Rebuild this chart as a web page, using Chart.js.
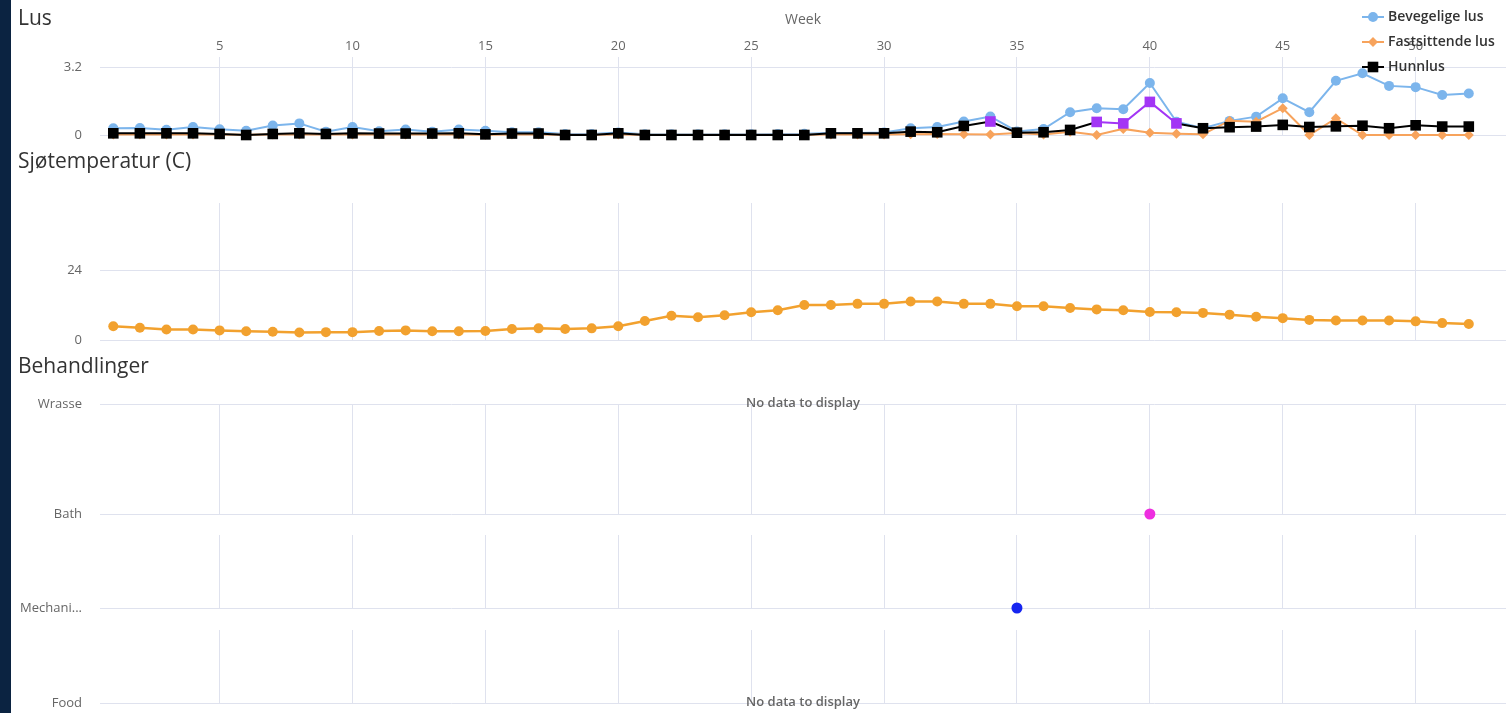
<!DOCTYPE html>
<html>
<head>
<meta charset="utf-8">
<script src="https://cdn.jsdelivr.net/npm/chart.js@4.4.1/dist/chart.umd.min.js"></script>
<style>
  body { margin: 0; width: 1506px; height: 713px; overflow: hidden; background: #fff; position: relative; font-family: "Open Sans", sans-serif; }
  .stripe { position: absolute; left: 0; top: 0; width: 11px; height: 713px; background: #0b2341; }
  .box { position: absolute; left: 12px; width: 1494px; }
  .title { position: absolute; left: 18px; font-size: 21px; line-height: 28px; color: #333; z-index: 2; }
</style>
</head>
<body>
<div class="stripe"></div>
<div class="box" style="top:0;height:147px"><canvas id="lus"></canvas></div>
<div class="box" style="top:190px;height:162px"><canvas id="temp"></canvas></div>
<div class="box" style="top:368px;height:48px"><canvas id="wrasse"></canvas></div>
<div class="box" style="top:392px;height:134px"><canvas id="bath"></canvas></div>
<div class="box" style="top:523px;height:97px"><canvas id="mech"></canvas></div>
<div class="box" style="top:618px;height:95px"><canvas id="food"></canvas></div>
<div class="title" style="top:3px">Lus</div>
<div class="title" style="top:146px">Sjøtemperatur (C)</div>
<div class="title" style="top:351px">Behandlinger</div>

<script>
// uker
const weeks = [1, 2, 3, 4, 5, 6, 7, 8, 9, 10, 11, 12, 13, 14, 15, 16, 17, 18, 19, 20, 21, 22, 23, 24, 25, 26,
  27, 28, 29, 30, 31, 32, 33, 34, 35, 36, 37, 38, 39, 40, 41, 42, 43, 44, 45, 46, 47, 48, 49, 50, 51, 52];
const weekTicks = [5, 10, 15, 20, 25, 30, 35, 40, 45, 50];

// lus per fisk
const bevegelige = [0.32, 0.33, 0.25, 0.38, 0.27, 0.2, 0.45, 0.55, 0.16, 0.38, 0.18, 0.26, 0.16, 0.26, 0.2, 0.13, 0.13,
  0.05, 0.05, 0.12, 0.04, 0.04, 0.04, 0.04, 0.04, 0.05, 0.06, 0.1, 0.1, 0.12, 0.32, 0.38, 0.64, 0.88, 0.17, 0.28,
  1.08, 1.27, 1.22, 2.47, 0.63, 0.32, 0.67, 0.87, 1.74, 1.08, 2.57, 2.93, 2.33, 2.27, 1.9, 1.97];
const fastsittende = [0.02, 0.02, 0.02, 0.02, 0.02, 0.01, 0.02, 0.02, 0.02, 0.02, 0.02, 0.02, 0.02, 0.02, 0.01, 0.02, 0.02,
  0.01, 0.01, 0.02, 0.01, 0.01, 0.01, 0.01, 0.01, 0.01, 0.01, 0.02, 0.02, 0.02, 0.03, 0.05, 0.04, 0.02, 0.1, 0.02,
  0.15, 0, 0.29, 0.11, 0.06, 0.03, 0.68, 0.63, 1.27, 0, 0.79, 0, 0, 0, 0, 0];
const hunnlus = [0.08, 0.08, 0.08, 0.08, 0.05, 0, 0.05, 0.08, 0.05, 0.08, 0.07, 0.07, 0.07, 0.08, 0.03, 0.07, 0.07,
  0, 0, 0.08, 0, 0, 0, 0, 0, 0, 0, 0.08, 0.08, 0.08, 0.16, 0.13, 0.43, 0.64, 0.11, 0.13,
  0.24, 0.62, 0.55, 1.57, 0.55, 0.32, 0.37, 0.4, 0.48, 0.38, 0.41, 0.44, 0.32, 0.46, 0.4, 0.4];
const hunnlusGrense = 0.5;
const lusTicks = [0, 3.2];

// sjøtemperatur
const temperatur = [4.7, 4.2, 3.6, 3.6, 3.3, 3.0, 2.8, 2.6, 2.7, 2.7, 3.1, 3.3, 3.0, 3.0, 3.1, 3.8, 4.0, 3.8, 4.0, 4.7,
  6.5, 8.3, 7.8, 8.5, 9.5, 10.2, 12.0, 12.0, 12.4, 12.4, 13.2, 13.2, 12.4, 12.4, 11.6, 11.6, 11.0, 10.5, 10.2, 9.6,
  9.5, 9.3, 8.7, 8.0, 7.5, 6.9, 6.7, 6.7, 6.7, 6.4, 5.8, 5.5];
const tempTicks = [0, 24];

// behandlinger
const treatmentLabels = ['Wrasse', 'Bath', 'Mechani...', 'Food'];
const wrasseWeeks = [];
const bathWeeks = [40];
const mechanicalWeeks = [35];
const foodWeeks = [];

const gridColor = '#dfe2ee';
const labelColor = '#666';
const tickFont = { family: '"Open Sans", sans-serif', size: 13 };
const purple = '#a335f5';

const pts = (xs, ys) => xs.map((x, i) => ({ x: x, y: ys[i] }));

function weekAxis(showLabels, showGrid) {
  return {
    type: 'linear', position: 'top', min: 0.5, max: 53.4,
    afterBuildTicks: s => { s.ticks = weekTicks.map(v => ({ value: v })); },
    grid: { color: gridColor, drawTicks: false, display: showGrid },
    border: { display: false },
    ticks: { display: showLabels, padding: 3, color: labelColor, font: tickFont, maxRotation: 0 },
    title: { display: showLabels, text: 'Week', color: labelColor, font: { family: tickFont.family, size: 14 }, padding: { top: 12, bottom: 0 } },
    afterFit: s => { s.height = showLabels ? 57 : 0; }
  };
}

// y-akse: avstand til plottet via usynlige tick-streker, ikke padding
function valueAxis(min, max, tickValues, labelFn) {
  const axis = {
    type: 'linear', position: 'left', min: min, max: max,
    afterBuildTicks: s => { s.ticks = tickValues.map(v => ({ value: v })); },
    grid: { color: gridColor, drawTicks: true, tickLength: 18, tickColor: 'rgba(0,0,0,0)' },
    border: { display: false },
    ticks: { padding: 0, color: labelColor, font: tickFont, autoSkip: false },
    afterFit: s => { s.width = 88; }
  };
  if (labelFn) axis.ticks.callback = labelFn;
  return axis;
}

// tegnforklaring oppe til høyre
function drawMarker(ctx, style, x, y, r) {
  ctx.beginPath();
  if (style === 'circle') {
    ctx.arc(x, y, r, 0, Math.PI * 2);
  } else if (style === 'rectRot') {
    ctx.moveTo(x - r, y); ctx.lineTo(x, y - r); ctx.lineTo(x + r, y); ctx.lineTo(x, y + r); ctx.closePath();
  } else {
    const h = r * Math.SQRT1_2;
    ctx.rect(x - h, y - h, 2 * h, 2 * h);
  }
  ctx.fill();
}

const cornerLegend = {
  id: 'cornerLegend',
  afterDraw(chart) {
    const ctx = chart.ctx;
    ctx.save();
    chart.data.datasets.forEach((ds, i) => {
      const y = 17 + i * 25;
      const x0 = 1350;
      ctx.strokeStyle = ds.borderColor;
      ctx.fillStyle = ds.legendColor || ds.borderColor;
      ctx.lineWidth = 2;
      ctx.beginPath(); ctx.moveTo(x0, y); ctx.lineTo(x0 + 22, y); ctx.stroke();
      drawMarker(ctx, ds.pointStyle, x0 + 11, y, ds.legendRadius);
      ctx.fillStyle = '#333';
      ctx.font = '600 14px "Open Sans", sans-serif';
      ctx.textAlign = 'left';
      ctx.textBaseline = 'middle';
      ctx.fillText(ds.label, x0 + 26, y);
    });
    ctx.restore();
  }
};

const noData = {
  id: 'noData',
  afterDraw(chart) {
    if (!chart.data.datasets.every(d => d.data.length === 0)) return;
    const { ctx, chartArea } = chart;
    ctx.save();
    ctx.font = '600 13px "Open Sans", sans-serif';
    ctx.fillStyle = labelColor;
    ctx.textAlign = 'center';
    ctx.textBaseline = 'middle';
    ctx.fillText('No data to display', (chartArea.left + chartArea.right) / 2, chartArea.bottom - 1);
    ctx.restore();
  }
};

const baseOptions = {
  responsive: true,
  maintainAspectRatio: false,
  animation: false,
  plugins: { legend: { display: false }, tooltip: { enabled: false } }
};

// Lus
new Chart(document.getElementById('lus'), {
  type: 'line',
  data: {
    datasets: [
      {
        label: 'Bevegelige lus', data: pts(weeks, bevegelige), order: 2,
        borderColor: '#7cb5ec', backgroundColor: '#7cb5ec', borderWidth: 2, tension: 0,
        pointStyle: 'circle', pointRadius: 5, pointBorderWidth: 0, legendRadius: 5, clip: false
      },
      {
        label: 'Fastsittende lus', data: pts(weeks, fastsittende), order: 1,
        borderColor: '#f7a35c', backgroundColor: '#f7a35c', borderWidth: 2, tension: 0,
        pointStyle: 'rectRot', pointRadius: 5, pointBorderWidth: 0, legendRadius: 5, clip: false
      },
      {
        label: 'Hunnlus', data: pts(weeks, hunnlus), order: 0,
        borderColor: '#000', backgroundColor: '#000', legendColor: '#000', borderWidth: 2, tension: 0,
        pointStyle: 'rect', pointRadius: 7.5, pointBorderWidth: 0, legendRadius: 7.5, clip: false,
        pointBackgroundColor: c => (c.parsed && c.parsed.y > hunnlusGrense) ? purple : '#000',
        segment: {
          borderColor: c => (c.p0.parsed.y > hunnlusGrense && c.p1.parsed.y > hunnlusGrense) ? purple : '#000'
        }
      }
    ]
  },
  options: Object.assign({}, baseOptions, {
    layout: { autoPadding: false, padding: { top: 0, bottom: 12, left: 0, right: 0 } },
    scales: { x: weekAxis(true, true), y: valueAxis(0, 3.7, lusTicks) }
  }),
  plugins: [cornerLegend]
});

// Sjøtemperatur
new Chart(document.getElementById('temp'), {
  type: 'line',
  data: {
    datasets: [{
      label: 'Sjøtemperatur', data: pts(weeks, temperatur),
      borderColor: '#f2a12e', backgroundColor: '#f2a12e', borderWidth: 2.5, tension: 0,
      pointRadius: 5, pointBorderWidth: 0, clip: false
    }]
  },
  options: Object.assign({}, baseOptions, {
    layout: { autoPadding: false, padding: { top: 13, bottom: 12, left: 0, right: 0 } },
    scales: { x: weekAxis(false, true), y: valueAxis(0, 47, tempTicks) }
  })
});

// Behandlinger
function treatmentChart(id, label, treatWeeks, color, showGrid, padBottom) {
  new Chart(document.getElementById(id), {
    type: 'line',
    data: {
      datasets: [{
        label: label, data: treatWeeks.map(w => ({ x: w, y: 0 })),
        showLine: false, backgroundColor: color, borderColor: color,
        pointRadius: 5.5, pointBorderWidth: 0, clip: false
      }]
    },
    options: Object.assign({}, baseOptions, {
      layout: { autoPadding: false, padding: { top: 12, bottom: padBottom, left: 0, right: 0 } },
      scales: { x: weekAxis(false, showGrid), y: valueAxis(0, 1, [0], () => label) }
    }),
    plugins: [noData]
  });
}

treatmentChart('wrasse', treatmentLabels[0], wrasseWeeks, '#888', false, 12);
treatmentChart('bath', treatmentLabels[1], bathWeeks, '#ee2ee0', true, 12);
treatmentChart('mech', treatmentLabels[2], mechanicalWeeks, '#1625f0', true, 12);
treatmentChart('food', treatmentLabels[3], foodWeeks, '#888', true, 10);
</script>
</body>
</html>
